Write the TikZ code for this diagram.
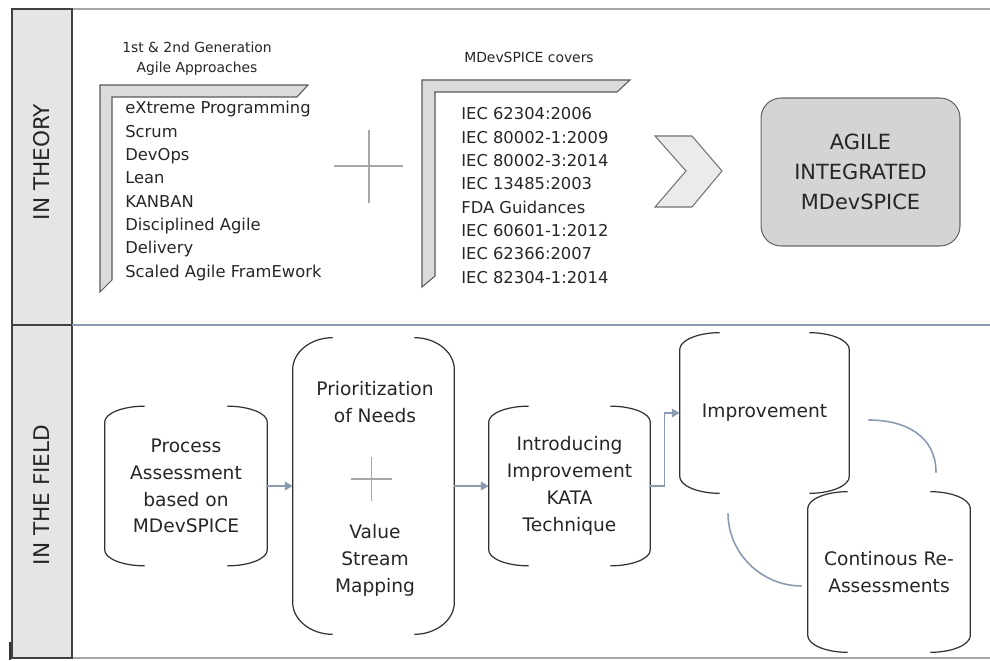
\documentclass[tikz,border=0pt]{standalone}
\usepackage{fontspec}
\setmainfont{DejaVu Sans}
\usetikzlibrary{arrows.meta,calc}

\definecolor{linkgray}{HTML}{8A9AB0}
\definecolor{rulegray}{HTML}{A6A6A6}
\definecolor{textgray}{HTML}{262626}

\tikzset{
  bandbox/.style={draw=black!75, fill=black!10, line width=0.7pt},
  bandlabel/.style={rotate=90, inner sep=0pt, font=\fontsize{12.3}{14}\selectfont, text=textgray},
  header/.style={inner sep=0pt, align=center, font=\fontsize{7.9}{11.2}\selectfont, text=textgray},
  listframe/.style={draw=black!65, fill=black!14, line width=0.6pt},
  listitem/.style={anchor=base west, inner sep=0pt, font=\fontsize{9.3}{12}\selectfont, text=textgray},
  plussign/.style={draw=black!35, line width=0.8pt},
  stepnode/.style={inner sep=0pt, align=center, font=\fontsize{10.6}{15.3}\selectfont, text=textgray},
  bracketline/.style={draw=black!80, line width=0.7pt},
  link/.style={draw=linkgray, line width=0.9pt},
  linkarrow/.style={link, -{Triangle[length=4.5pt,width=5pt]}},
}

% left and right bracket round a node: name, inset, depth
\newcommand{\brackets}[3]{%
  \draw[bracketline] ($(#1.north west)+(#2,0)$) .. controls +(-0.55*#2,0) and +(0,0.55*#3) .. ($(#1.north west)+(0,-#3)$)
    -- ($(#1.south west)+(0,#3)$) .. controls +(0,-0.55*#3) and +(-0.55*#2,0) .. ($(#1.south west)+(#2,0)$);
  \draw[bracketline] ($(#1.north east)+(-#2,0)$) .. controls +(0.55*#2,0) and +(0,0.55*#3) .. ($(#1.north east)+(0,-#3)$)
    -- ($(#1.south east)+(0,#3)$) .. controls +(0,-0.55*#3) and +(0.55*#2,0) .. ($(#1.south east)+(-#2,0)$);
}

\begin{document}
\begin{tikzpicture}[x=0.02cm, y=0.02cm]
\useasboundingbox (0,0) rectangle (990,660);

% Frame and side band
\draw[rulegray, line width=0.8pt] (72,651) -- (990,651);
\draw[rulegray, line width=0.8pt] (72,2) -- (990,2);
\draw[bandbox] (12,2) rectangle (72,651);
\draw[black!75, line width=0.7pt] (12,335) -- (72,335);
\draw[linkgray, line width=0.9pt] (72,335) -- (990,335);
\draw[black!80, line width=0.7pt] (10,0) -- (10,18);
\node[bandlabel] (theory) at (42,498) {IN THEORY};
\node[bandlabel] (field) at (42,165) {IN THE FIELD};

% In theory: agile approaches
\node[header, anchor=north] (agile-head) at (197,618) {1st \& 2nd Generation\\Agile Approaches};
\draw[listframe] (100,575) -- (308,575) -- (297,563) -- (112,563) -- (112,380) -- (100,368) -- cycle;
\foreach \entry [count=\i] in {eXtreme Programming, Scrum, DevOps, Lean, KANBAN, Disciplined Agile, Delivery, Scaled Agile FramEwork}
  \node[listitem] (agile-\i) at (125,{546-23.3*(\i-1)}) {\entry};

\draw[plussign] (334,494) -- (403,494) (369,457) -- (369,530);

% In theory: standards
\node[header, anchor=base] (std-head) at (529,597) {MDevSPICE covers};
\draw[listframe] (422,580) -- (630,580) -- (617,568) -- (435,568) -- (435,384) -- (422,373) -- cycle;
\foreach \entry [count=\i] in {IEC 62304:2006, IEC 80002-1:2009, IEC 80002-3:2014, IEC 13485:2003, FDA Guidances, IEC 60601-1:2012, IEC 62366:2007, IEC 82304-1:2014}
  \node[listitem] (std-\i) at (461,{540-23.3*(\i-1)}) {\entry};

\draw[draw=black!55, fill=black!8, line width=0.6pt] (655,524) -- (692,524) -- (722,489) -- (692,453) -- (655,453) -- (686,489) -- cycle;

\node[draw=black!60, fill=black!17, line width=0.6pt, rounded corners=0.4cm, minimum width=3.98cm, minimum height=2.96cm,
  align=center, font=\fontsize{11.9}{17}\selectfont, text=textgray] (result) at (860.5,488) {AGILE\\INTEGRATED\\MDevSPICE};

% In the field
\node[stepnode, minimum width=3.24cm, minimum height=3.18cm] (assess) at (186,174) {Process\\Assessment\\based on\\MDevSPICE};
\node[stepnode, minimum width=3.22cm, minimum height=5.92cm] (prio) at (373.5,174) {};
\node[stepnode] (prio-top) at (375,258) {Prioritization\\of Needs};
\node[stepnode] (prio-bot) at (375,100) {Value\\Stream\\Mapping};
\draw[plussign] (351,181) -- (392,181) (371.5,159) -- (371.5,203);
\node[stepnode, minimum width=3.22cm, minimum height=3.18cm] (kata) at (569.5,174) {Introducing\\Improvement\\KATA\\Technique};
\node[stepnode, minimum width=3.38cm, minimum height=3.2cm] (improve) at (764.5,247) {Improvement};
\node[stepnode, minimum width=3.24cm, minimum height=3.2cm] (reassess) at (889,88) {Continous Re-\\Assessments};

\brackets{assess}{40}{16}
\brackets{prio}{40}{32}
\brackets{kata}{40}{16}
\brackets{improve}{40}{17}
\brackets{reassess}{40}{17}

\draw[linkarrow] (assess.east) -- (prio.west);
\draw[linkarrow] (prio.east) -- (kata.west);
\draw[linkarrow] (kata.east) -- ++(14,0) |- (improve.west);
\draw[link] ([shift={(19,-7)}]improve.east) .. controls +(37,0) and +(0,37) .. ([shift={(47,19)}]reassess.north);
\draw[link] ([shift={(-36.5,-20)}]improve.south) .. controls +(0,-40) and +(-40,0) .. ([shift={(-6,-14)}]reassess.west);
\end{tikzpicture}
\end{document}
